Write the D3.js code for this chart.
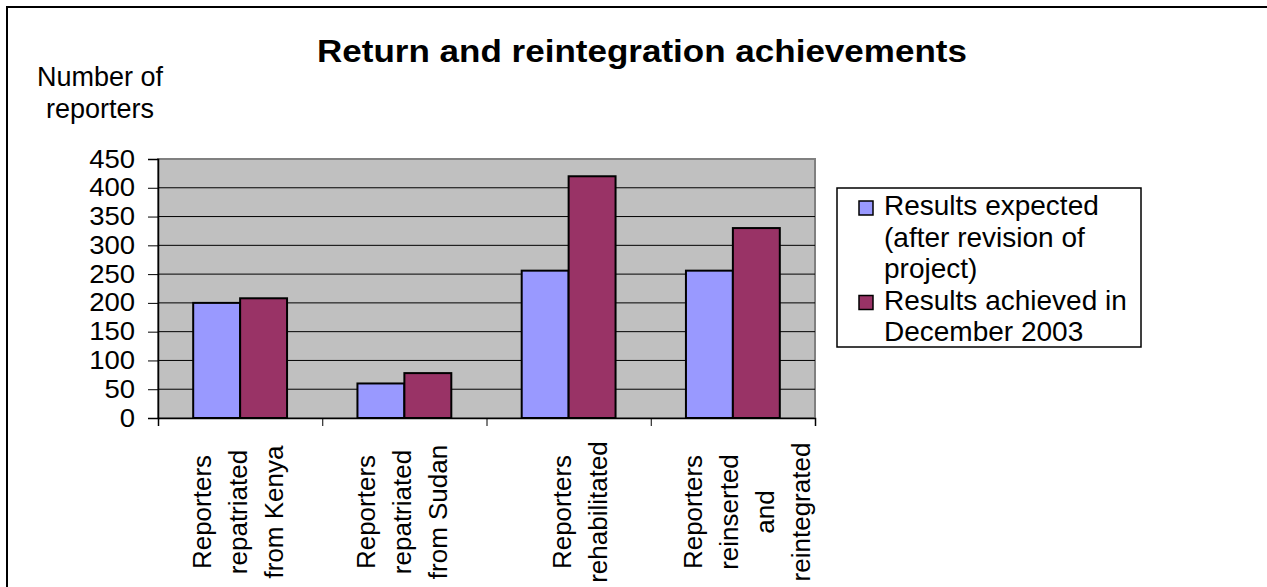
<!DOCTYPE html>
<html>
<head>
<meta charset="utf-8">
<script src="https://cdn.jsdelivr.net/npm/d3@7"></script>
<style>
  body { margin: 0; background: #fff; }
  text { font-family: "Liberation Sans", Arial, sans-serif; fill: #000; }
</style>
</head>
<body>
<svg id="svg1" width="1267" height="587"></svg>
<script>
// data
var categories = ["Kenya", "Sudan", "Rehabilitated", "Reinserted"];
var categoryLines = [
  ["Reporters", "repatriated", "from Kenya"],
  ["Reporters", "repatriated", "from Sudan"],
  ["Reporters", "rehabilitated"],
  ["Reporters", "reinserted", "and", "reintegrated"]
];
var seriesNames = ["expected", "achieved"];
var legendLines = [
  ["Results expected", "(after revision of", "project)"],
  ["Results achieved in", "December 2003"]
];
var expectedValues = [200, 60, 256, 256];
var achievedValues = [208, 78, 420, 330];
var yTicks = [0, 50, 100, 150, 200, 250, 300, 350, 400, 450];
var colors = ["#9999FF", "#993366"];

// label placement tweaks (layout only)
var labelShift = [-2, -2, 11, 14];

function draw(){
  var svg = d3.select("#svg1");

  // outer frame
  svg.append("rect")
    .attr("x", 7).attr("y", 7)
    .attr("width", 1300).attr("height", 700)
    .attr("fill", "none").attr("stroke", "#000").attr("stroke-width", 2);

  var left = 158, right = 815, top = 159, bottom = 418;

  var scaleY = d3.scaleLinear().domain([0, 450]).range([bottom, top]);
  var scaleX = d3.scaleBand().domain(categories).range([left, right]).padding(0);
  var scaleX1 = d3.scaleBand().domain(seriesNames)
    .range([0, scaleX.bandwidth()]).paddingInner(0).paddingOuter(0.75);

  // plot background
  svg.append("rect")
    .attr("x", left).attr("y", top)
    .attr("width", right - left).attr("height", bottom - top)
    .attr("fill", "#C0C0C0").attr("stroke", "#808080").attr("stroke-width", 2);

  // gridlines
  svg.append("g").selectAll("line")
    .data(yTicks.filter(function(d){ return d > 0 && d < 450; }))
    .join("line")
    .attr("x1", left).attr("x2", right)
    .attr("y1", function(d){ return scaleY(d); })
    .attr("y2", function(d){ return scaleY(d); })
    .attr("stroke", "#000").attr("stroke-width", 1);

  // bars
  var rows = categories.map(function(c, i){
    return { cat: c, values: [expectedValues[i], achievedValues[i]] };
  });
  var gBars = svg.append("g");
  rows.forEach(function(r){
    gBars.append("g")
      .attr("transform", "translate(" + scaleX(r.cat) + ",0)")
      .selectAll("rect")
      .data(r.values)
      .join("rect")
      .attr("x", function(d, j){ return scaleX1(seriesNames[j]); })
      .attr("y", function(d){ return scaleY(d); })
      .attr("width", scaleX1.bandwidth())
      .attr("height", function(d){ return bottom - scaleY(d); })
      .attr("fill", function(d, j){ return colors[j]; })
      .attr("stroke", "#000").attr("stroke-width", 2);
  });

  // y axis
  var axisY = d3.axisLeft(scaleY).tickValues(yTicks).tickSize(10).tickPadding(13);
  var gAxisY = svg.append("g").attr("transform", "translate(" + left + ",0)");
  gAxisY.call(axisY);
  gAxisY.select(".domain").attr("stroke", "#000").attr("stroke-width", 1.5);
  gAxisY.selectAll("line").attr("stroke", "#000");
  // labels slightly wide, like the original
  gAxisY.selectAll("text")
    .style("font-family", "'Liberation Sans', Arial, sans-serif")
    .style("font-size", "25px").attr("fill", "#000")
    .attr("x", -23 / 1.1)
    .attr("transform", "scale(1.1,1)");

  // x axis (ticks at category boundaries)
  var scaleXb = d3.scaleLinear().domain([0, categories.length]).range([left, right]);
  var axisX = d3.axisBottom(scaleXb).ticks(categories.length).tickSize(8).tickFormat("");
  var gAxisX = svg.append("g").attr("transform", "translate(0," + bottom + ")");
  gAxisX.call(axisX);
  gAxisX.select(".domain").attr("stroke", "#000").attr("stroke-width", 1.5);
  gAxisX.selectAll("line").attr("stroke", "#000");

  // category labels (rotated)
  var lineGap = 36;
  categories.forEach(function(c, i){
    var lines = categoryLines[i];
    var cx = scaleX(c) + scaleX.bandwidth() / 2 + labelShift[i];
    lines.forEach(function(t, k){
      var lx = cx + (k - (lines.length - 1) / 2) * lineGap;
      svg.append("text")
        .attr("transform", "translate(" + lx + ",512) rotate(-90)")
        .attr("text-anchor", "middle")
        .attr("dy", "0.35em")
        .style("font-size", "26px")
        .text(t);
    });
  });

  // title
  svg.append("text")
    .attr("transform", "translate(642,62) scale(1.13,1)")
    .attr("text-anchor", "middle")
    .style("font-size", "31px").style("font-weight", "bold")
    .text("Return and reintegration achievements");

  // y axis title
  svg.append("text").attr("x", 100).attr("y", 86)
    .attr("text-anchor", "middle").style("font-size", "27px").text("Number of");
  svg.append("text").attr("x", 100).attr("y", 118)
    .attr("text-anchor", "middle").style("font-size", "27px").text("reporters");

  // legend
  var gLeg = svg.append("g");
  gLeg.append("rect")
    .attr("x", 837).attr("y", 188).attr("width", 304).attr("height", 159)
    .attr("fill", "#fff").attr("stroke", "#000").attr("stroke-width", 1.5);
  var lineH = 31.5;
  var base = 215;
  var n = 0;
  legendLines.forEach(function(lines, j){
    var y0 = base + n * lineH;
    gLeg.append("rect")
      .attr("x", 859).attr("y", y0 - 14).attr("width", 14).attr("height", 14)
      .attr("fill", colors[j]).attr("stroke", "#000").attr("stroke-width", 1.5);
    lines.forEach(function(t, k){
      gLeg.append("text")
        .attr("x", 884).attr("y", base + (n + k) * lineH)
        .style("font-size", "28px")
        .text(t);
    });
    n += lines.length;
  });
}
draw();
</script>
</body>
</html>
